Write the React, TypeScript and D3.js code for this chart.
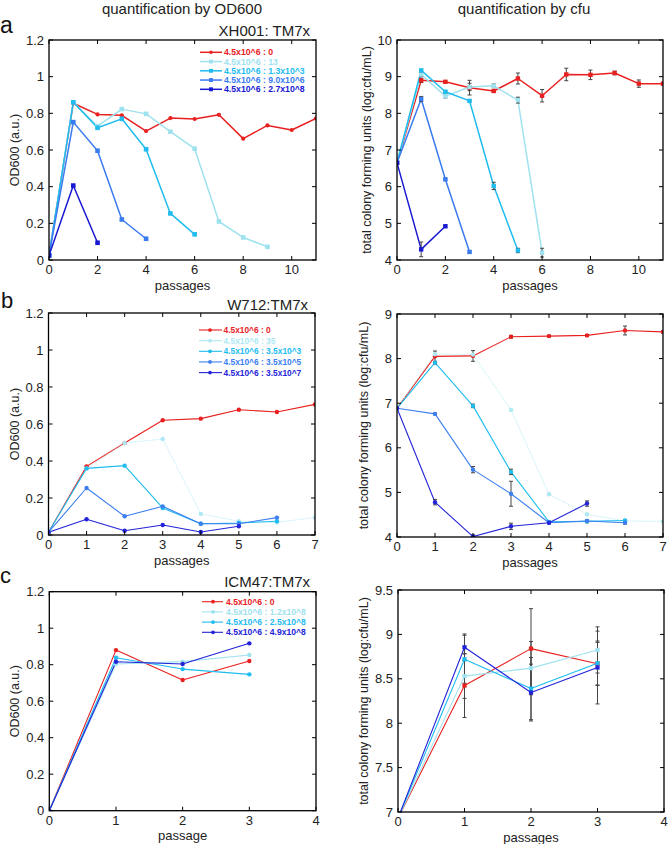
import React from "react";
import * as d3 from "d3";

// ---------- Colours ----------
const RED = "#e8201f";
const LCYAN = "#9fe2ef";
const CYAN = "#1ebcef";
const MBLUE = "#3a7bf0";
const DBLUE = "#1818d2";

// ---------- Panel a : XH001 ----------
const labelsA = ["4.5x10^6 : 0", "4.5x10^6 : 13", "4.5x10^6 : 1.3x10^3", "4.5x10^6 : 9.0x10^6", "4.5x10^6 : 2.7x10^8"];
const odA_0 = [0.025, 0.855, 0.794, 0.789, 0.703, 0.774, 0.769, 0.792, 0.662, 0.734, 0.709, 0.772];
const odA_13 = [0.025, 0.861, 0.73, 0.823, 0.797, 0.7, 0.607, 0.21, 0.123, 0.072];
const odA_13e3 = [0.025, 0.86, 0.721, 0.77, 0.604, 0.254, 0.14];
const odA_9e6 = [0.025, 0.752, 0.596, 0.221, 0.116];
const odA_27e8 = [0.025, 0.406, 0.094];

const cfuA_0 = [6.65, 8.9, 8.86, 8.7, 8.61, 8.95, 8.48, 9.06, 9.05, 9.1, 8.81, 8.81];
const cfuA_0_err = [0, 0.06, 0.03, 0.2, 0.03, 0.15, 0.17, 0.17, 0.13, 0.05, 0.1, 0];
const cfuA_13 = [6.65, 9.06, 8.47, 8.72, 8.75, 8.36, 4.2];
const cfuA_13_err = [0, 0.05, 0.05, 0.1, 0.05, 0.08, 0.12];
const cfuA_13e3 = [6.65, 9.17, 8.59, 8.34, 6.02, 4.26];
const cfuA_13e3_err = [0, 0.03, 0.03, 0.03, 0.1, 0.06];
const cfuA_9e6 = [6.65, 8.39, 6.2, 4.22];
const cfuA_9e6_err = [0, 0.07, 0.03, 0.03];
const cfuA_27e8 = [6.65, 4.29, 4.92];
const cfuA_27e8_err = [0, 0.2, 0.03];

// ---------- Panel b : W712 ----------
const labelsB = ["4.5x10^6 : 0", "4.5x10^6 : 35", "4.5x10^6 : 3.5x10^3", "4.5x10^6 : 3.5x10^5", "4.5x10^6 : 3.5x10^7"];
const odB_0 = [0.015, 0.371, 0.497, 0.62, 0.629, 0.677, 0.665, 0.706];
const odB_35 = [0.015, 0.36, 0.497, 0.519, 0.114, 0.074, 0.068, 0.095];
const odB_35e3 = [0.015, 0.36, 0.375, 0.146, 0.061, 0.065, 0.074];
const odB_35e5 = [0.015, 0.254, 0.101, 0.155, 0.061, 0.061, 0.094];
const odB_35e7 = [0.015, 0.085, 0.023, 0.054, 0.016, 0.047];

const cfuB_0 = [6.886, 8.05, 8.06, 8.49, 8.505, 8.52, 8.63, 8.6];
const cfuB_0_err = [0, 0.12, 0.12, 0.03, 0.02, 0.02, 0.1, 0.03];
const cfuB_35 = [6.886, 8.1, 8.09, 6.85, 4.96, 4.51, 4.36, 4.35];
const cfuB_35_err = [0, 0, 0, 0, 0, 0, 0, 0];
const cfuB_35e3 = [6.886, 7.91, 6.94, 5.46, 4.34, 4.35, 4.37];
const cfuB_35e3_err = [0, 0.03, 0.04, 0.06, 0.02, 0.03, 0.02];
const cfuB_35e5 = [6.886, 6.76, 5.51, 4.97, 4.32, 4.36, 4.32];
const cfuB_35e5_err = [0, 0.02, 0.07, 0.28, 0.02, 0.02, 0.03];
const cfuB_35e7 = [6.886, 4.78, 4.01, 4.24, 4.32, 4.75];
const cfuB_35e7_err = [0, 0.06, 0.04, 0.07, 0.02, 0.06];

// ---------- Panel c : ICM47 ----------
const labelsC = ["4.5x10^6 : 0", "4.5x10^6 : 1.2x10^8", "4.5x10^6 : 2.5x10^8", "4.5x10^6 : 4.9x10^8"];
const odC_0 = [0, 0.88, 0.716, 0.82];
const odC_12e8 = [0, 0.804, 0.817, 0.853];
const odC_25e8 = [0, 0.838, 0.776, 0.747];
const odC_49e8 = [0, 0.816, 0.804, 0.917];

const cfuC_0 = [6.93, 8.424, 8.84, 8.67];
const cfuC_0_err = [0, 0.36, 0.45, 0.24];
const cfuC_12e8 = [6.93, 8.53, 8.62, 8.825];
const cfuC_12e8_err = [0, 0.25, 0.3, 0.26];
const cfuC_25e8 = [6.93, 8.72, 8.39, 8.675];
const cfuC_25e8_err = [0, 0.27, 0.35, 0.25];
const cfuC_49e8 = [6.93, 8.855, 8.345, 8.627];
const cfuC_49e8_err = [0, 0.15, 0.32, 0.41];

// ---------- Ticks ----------
const xTicksA = [0, 2, 4, 6, 8, 10];
const xTicksB = [0, 1, 2, 3, 4, 5, 6, 7];
const xTicksC = [0, 1, 2, 3, 4];
const odTicks = [0, 0.2, 0.4, 0.6, 0.8, 1, 1.2];
const cfuTicksA = [4, 5, 6, 7, 8, 9, 10];
const cfuTicksB = [4, 5, 6, 7, 8, 9];
const cfuTicksC = [7, 7.5, 8, 8.5, 9, 9.5];

const FONT = "Liberation Sans, Arial, Helvetica, sans-serif";

type Series = {
  values: number[];
  errs?: number[];
  color: string;
  marker: "circle" | "square";
  width: number;
  size: number;
  dash?: string;
  label?: string;
};

type PanelProps = {
  id: string;
  box: { x0: number; x1: number; y0: number; y1: number };
  xDomain: [number, number];
  xTicks: number[];
  yDomain: [number, number];
  yTicks: number[];
  series: Series[];
  xLabel: string;
  yLabel: string;
  yLabelX: number;
  legend?: { x0: number; x1: number; xm: number; xt: number; y: number; dy: number; fs: number; lw: number };
};

function Marker({ kind, x, y, size, color }: { kind: string; x: number; y: number; size: number; color: string }) {
  if (kind === "circle") return <circle cx={x} cy={y} r={size / 2} fill={color} />;
  return <rect x={x - size / 2} y={y - size / 2} width={size} height={size} fill={color} />;
}

function Panel(p: PanelProps) {
  const { box } = p;
  const xs = d3.scaleLinear().domain(p.xDomain).range([box.x0, box.x1]);
  const ys = d3.scaleLinear().domain(p.yDomain).range([box.y1, box.y0]);
  const line = d3
    .line<number>()
    .x((_, i) => xs(i))
    .y((d) => ys(d));
  const tl = 4;
  const fmt = (v: number) => String(v);
  const cx = (box.x0 + box.x1) / 2;
  const cy = (box.y0 + box.y1) / 2;
  return (
    <g>
      <defs>
        <clipPath id={"clip-" + p.id}>
          <rect x={box.x0} y={box.y0} width={box.x1 - box.x0} height={box.y1 - box.y0} />
        </clipPath>
      </defs>
      <g clipPath={`url(#clip-${p.id})`}>
        {p.series.map((s, k) => (
          <path
            key={"l" + k}
            d={line(s.values) || ""}
            fill="none"
            stroke={s.color}
            strokeWidth={s.width}
            strokeDasharray={s.dash}
            strokeLinejoin="round"
          />
        ))}
        {p.series.map((s, k) =>
          (s.errs || []).map((e, i) =>
            e > 0 ? (
              <g key={"e" + k + "-" + i} stroke="#444" strokeWidth={1}>
                <line x1={xs(i)} x2={xs(i)} y1={ys(s.values[i] - e)} y2={ys(s.values[i] + e)} />
                <line x1={xs(i) - 2} x2={xs(i) + 2} y1={ys(s.values[i] - e)} y2={ys(s.values[i] - e)} />
                <line x1={xs(i) - 2} x2={xs(i) + 2} y1={ys(s.values[i] + e)} y2={ys(s.values[i] + e)} />
              </g>
            ) : null
          )
        )}
        {p.series.map((s, k) =>
          s.values.map((v, i) => (
            <Marker key={"m" + k + "-" + i} kind={s.marker} x={xs(i)} y={ys(v)} size={s.size} color={s.color} />
          ))
        )}
      </g>
      {/* frame */}
      <rect x={box.x0} y={box.y0} width={box.x1 - box.x0} height={box.y1 - box.y0} fill="none" stroke="#000" strokeWidth={1.3} />
      {/* x ticks */}
      {p.xTicks.map((t) => (
        <g key={"xt" + t}>
          <line x1={xs(t)} x2={xs(t)} y1={box.y1} y2={box.y1 - tl} stroke="#000" strokeWidth={1} />
          <line x1={xs(t)} x2={xs(t)} y1={box.y0} y2={box.y0 + tl} stroke="#000" strokeWidth={1} />
          <text x={xs(t)} y={box.y1 + 14} textAnchor="middle" fontSize={13} fontFamily={FONT} fill="#222">
            {fmt(t)}
          </text>
        </g>
      ))}
      {/* y ticks */}
      {p.yTicks.map((t) => (
        <g key={"yt" + t}>
          <line x1={box.x0} x2={box.x0 + tl} y1={ys(t)} y2={ys(t)} stroke="#000" strokeWidth={1} />
          <line x1={box.x1} x2={box.x1 - tl} y1={ys(t)} y2={ys(t)} stroke="#000" strokeWidth={1} />
          <text x={box.x0 - 5} y={ys(t) + 4.5} textAnchor="end" fontSize={13} fontFamily={FONT} fill="#222">
            {fmt(t)}
          </text>
        </g>
      ))}
      {/* axis labels */}
      <text x={cx} y={box.y1 + 29.5} textAnchor="middle" fontSize={13} fontFamily={FONT} fill="#222">
        {p.xLabel}
      </text>
      <text
        transform={`translate(${p.yLabelX},${cy}) rotate(-90)`}
        textAnchor="middle"
        fontSize={12.5}
        fontFamily={FONT}
        fill="#222"
      >
        {p.yLabel}
      </text>
      {/* legend */}
      {p.legend &&
        p.series.map((s, k) => {
          const L = p.legend!;
          const y = L.y + k * L.dy;
          return (
            <g key={"lg" + k}>
              <line x1={L.x0} x2={L.x1} y1={y} y2={y} stroke={s.color} strokeWidth={L.lw} />
              <Marker kind={s.marker} x={L.xm} y={y} size={s.size * 0.85} color={s.color} />
              <text x={L.xt} y={y + 3} fontSize={L.fs} fontWeight="bold" fontFamily={FONT} fill={s.color}>
                {s.label}
              </text>
            </g>
          );
        })}
    </g>
  );
}

export default function App() {
  const colsA = [RED, LCYAN, CYAN, MBLUE, DBLUE];
  const odASeries: Series[] = [odA_0, odA_13, odA_13e3, odA_9e6, odA_27e8].map((v, i) => ({
    values: v,
    color: colsA[i],
    marker: i === 0 ? "circle" : "square",
    width: 1.5,
    size: i === 0 ? 4.2 : 4.6,
    label: labelsA[i],
  }));
  const cfuAVals = [cfuA_0, cfuA_13, cfuA_13e3, cfuA_9e6, cfuA_27e8];
  const cfuAErrs = [cfuA_0_err, cfuA_13_err, cfuA_13e3_err, cfuA_9e6_err, cfuA_27e8_err];
  const cfuASeries: Series[] = cfuAVals.map((v, i) => ({
    values: v,
    errs: cfuAErrs[i],
    color: colsA[i],
    marker: "square",
    width: 1.5,
    size: 4.4,
  }));

  const colsB = [RED, "#aee8f3", CYAN, "#3d7ff0", "#2424d8"];
  const odBSeries: Series[] = [odB_0, odB_35, odB_35e3, odB_35e5, odB_35e7].map((v, i) => ({
    values: v,
    color: colsB[i],
    marker: "circle",
    width: i === 1 ? 0.8 : 1.1,
    size: 4.4,
    dash: i === 1 ? "1.5,1" : undefined,
    label: labelsB[i],
  }));
  const cfuBVals = [cfuB_0, cfuB_35, cfuB_35e3, cfuB_35e5, cfuB_35e7];
  const cfuBErrs = [cfuB_0_err, cfuB_35_err, cfuB_35e3_err, cfuB_35e5_err, cfuB_35e7_err];
  const cfuBSeries: Series[] = cfuBVals.map((v, i) => ({
    values: v,
    errs: cfuBErrs[i],
    color: colsB[i],
    marker: "circle",
    width: i === 1 ? 0.8 : 1.1,
    size: 4.4,
    dash: i === 1 ? "1.5,1" : undefined,
  }));

  const colsC = [RED, LCYAN, CYAN, "#2222d8"];
  const odCSeries: Series[] = [odC_0, odC_12e8, odC_25e8, odC_49e8].map((v, i) => ({
    values: v,
    color: colsC[i],
    marker: "circle",
    width: 1.1,
    size: 4.4,
    label: labelsC[i],
  }));
  const cfuCVals = [cfuC_0, cfuC_12e8, cfuC_25e8, cfuC_49e8];
  const cfuCErrs = [cfuC_0_err, cfuC_12e8_err, cfuC_25e8_err, cfuC_49e8_err];
  const cfuCSeries: Series[] = cfuCVals.map((v, i) => ({
    values: v,
    errs: cfuCErrs[i],
    color: colsC[i],
    marker: "square",
    width: 1.1,
    size: 4.2,
  }));

  const cfuLabel = "total colony forming units (log:cfu/mL)";
  const odLabel = "OD600 (a.u.)";

  return (
    <svg
      width={669}
      height={844}
      style={{ position: "absolute", left: 0, top: 0, background: "#fff" }}
      fontFamily={FONT}
    >
      <rect x={0} y={0} width={669} height={844} fill="#fff" />
      <text x={182} y={13.5} textAnchor="middle" fontSize={15} fill="#222">quantification by OD600</text>
      <text x={524} y={13.5} textAnchor="middle" fontSize={15} fill="#222">quantification by cfu</text>

      <text x={0} y={33} fontSize={23} fill="#111">a</text>
      <text x={310} y={36} textAnchor="end" fontSize={15} fill="#222">XH001: TM7x</text>
      <text x={1} y={308} fontSize={22} fill="#111">b</text>
      <text x={308} y={310} textAnchor="end" fontSize={15} fill="#222">W712:TM7x</text>
      <text x={0} y={583} fontSize={22} fill="#111">c</text>
      <text x={310} y={587} textAnchor="end" fontSize={15} fill="#222">ICM47:TM7x</text>

      <Panel
        id="al"
        box={{ x0: 49, x1: 316, y0: 40, y1: 260 }}
        xDomain={[0, 11]}
        xTicks={xTicksA}
        yDomain={[0, 1.2]}
        yTicks={odTicks}
        series={odASeries}
        xLabel="passages"
        yLabel={odLabel}
        yLabelX={19}
        legend={{ x0: 200, x1: 222, xm: 211, xt: 224, y: 52.3, dy: 9.25, fs: 8.7, lw: 1.5 }}
      />
      <Panel
        id="ar"
        box={{ x0: 397, x1: 663, y0: 40, y1: 260 }}
        xDomain={[0, 11]}
        xTicks={xTicksA}
        yDomain={[4, 10]}
        yTicks={cfuTicksA}
        series={cfuASeries}
        xLabel="passages"
        yLabel={cfuLabel}
        yLabelX={371}
      />
      <Panel
        id="bl"
        box={{ x0: 48.5, x1: 315, y0: 313, y1: 535 }}
        xDomain={[0, 7]}
        xTicks={xTicksB}
        yDomain={[0, 1.2]}
        yTicks={odTicks}
        series={odBSeries}
        xLabel="passages"
        yLabel={odLabel}
        yLabelX={19}
        legend={{ x0: 199, x1: 222, xm: 210, xt: 223.5, y: 330, dy: 10.65, fs: 8.4, lw: 1.1 }}
      />
      <Panel
        id="br"
        box={{ x0: 397, x1: 663, y0: 314, y1: 537 }}
        xDomain={[0, 7]}
        xTicks={xTicksB}
        yDomain={[4, 9]}
        yTicks={cfuTicksB}
        series={cfuBSeries}
        xLabel="passages"
        yLabel={cfuLabel}
        yLabelX={368}
      />
      <Panel
        id="cl"
        box={{ x0: 49.3, x1: 316, y0: 591.7, y1: 810.7 }}
        xDomain={[0, 4]}
        xTicks={xTicksC}
        yDomain={[0, 1.2]}
        yTicks={odTicks}
        series={odCSeries}
        xLabel="passage"
        yLabel={odLabel}
        yLabelX={19}
        legend={{ x0: 202, x1: 223, xm: 213, xt: 226, y: 601.7, dy: 10.2, fs: 8.6, lw: 1.1 }}
      />
      <Panel
        id="cr"
        box={{ x0: 398, x1: 664, y0: 590, y1: 812 }}
        xDomain={[0, 4]}
        xTicks={xTicksC}
        yDomain={[7, 9.5]}
        yTicks={cfuTicksC}
        series={cfuCSeries}
        xLabel="passages"
        yLabel={cfuLabel}
        yLabelX={368}
      />
    </svg>
  );
}
